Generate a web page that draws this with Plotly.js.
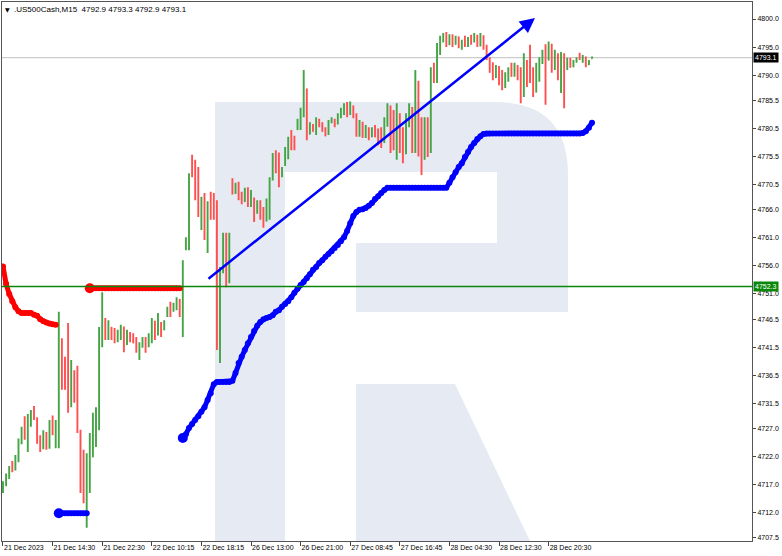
<!DOCTYPE html>
<html>
<head>
<meta charset="utf-8">
<script src="https://cdn.plot.ly/plotly-3.0.1.min.js"></script>
<style>html,body{margin:0;padding:0;background:#fff}#chart{width:782px;height:556px}</style>
</head>
<body>
<div id="chart"></div>
<script>
const openP = [4716.0,4717.0,4718.4,4720.0,4719.7,4721.5,4724.6,4727.0,4723.0,4728.8,4730.0,4728.8,4725.0,4723.5,4726.0,4723.6,4728.0,4725.8,4726.0,4742.5,
4739.5,4745.0,4731.5,4737.0,4738.0,4726.5,4721.0,4714.0,4718.0,4722.0,4726.0,4730.0,4743.0,4746.3,4743.2,4745.0,4743.5,4742.8,4744.3,4745.0,
4742.0,4743.8,4743.5,4742.5,4740.0,4742.0,4743.0,4741.6,4742.5,4746.0,4743.8,4745.8,4744.6,4747.0,4749.2,4748.0,4748.5,4750.0,4747.5,4759.0,
4759.0,4773.0,4772.0,4773.0,4763.0,4767.5,4762.0,4768.5,4768.5,4767.5,4742.0,4755.0,4760.0,4753.0,4771.5,4769.0,4770.5,4768.0,4767.5,4769.5,
4767.0,4768.0,4765.5,4767.0,4765.5,4764.0,4765.0,4771.5,4776.0,4775.0,4772.0,4774.0,4776.5,4780.0,4779.0,4780.3,4780.5,4783.0,4787.5,4779.5,
4781.0,4779.5,4782.0,4781.5,4780.5,4779.5,4781.8,4782.0,4781.5,4783.0,4783.5,4785.0,4783.0,4784.5,4783.0,4779.5,4781.0,4779.0,4780.5,4779.0,
4780.5,4779.5,4780.0,4778.0,4781.0,4784.5,4782.0,4775.5,4783.0,4779.0,4776.0,4781.0,4783.5,4777.0,4788.5,4781.0,4775.0,4781.0,4777.0,4790.5,
4789.0,4794.0,4796.0,4797.5,4795.5,4797.0,4795.5,4796.8,4795.0,4796.0,4795.5,4796.5,4796.0,4797.0,4795.3,4797.0,4795.0,4793.0,4790.5,4789.6,
4791.5,4789.5,4787.8,4789.5,4791.0,4790.0,4791.5,4791.0,4786.5,4792.5,4794.0,4790.0,4787.0,4789.5,4792.2,4794.0,4792.7,4795.5,4791.0,4793.5,
4787.5,4793.5,4791.0,4792.5,4791.5,4792.5,4793.6,4792.8,4793.2,4791.8,4792.9];
const highP = [4717.6,4719.0,4720.3,4721.2,4722.3,4725.2,4727.3,4729.2,4729.6,4730.3,4731.0,4729.0,4725.8,4726.7,4726.4,4728.5,4729.3,4728.5,4747.8,4743.1,
4739.8,4745.8,4739.2,4737.4,4738.2,4726.8,4723.2,4722.6,4726.2,4729.8,4730.8,4745.1,4751.3,4746.7,4746.3,4745.1,4744.9,4744.6,4745.5,4745.2,
4744.6,4744.2,4744.0,4743.3,4742.4,4743.3,4743.3,4744.0,4746.7,4746.2,4747.6,4746.0,4746.3,4748.7,4749.6,4749.4,4750.4,4750.1,4757.0,4761.1,
4772.5,4775.8,4774.9,4773.6,4768.3,4769.0,4767.5,4769.2,4769.0,4767.7,4755.8,4761.9,4761.9,4761.9,4771.6,4770.8,4771.0,4769.2,4769.9,4770.0,
4769.5,4768.2,4767.7,4767.7,4766.5,4768.0,4771.8,4776.1,4776.6,4776.2,4773.6,4777.2,4779.0,4780.2,4779.2,4782.2,4784.2,4790.9,4787.6,4781.6,
4781.3,4782.5,4782.2,4781.6,4780.7,4782.0,4782.5,4782.2,4783.2,4784.2,4785.0,4785.2,4785.3,4784.6,4783.2,4782.0,4781.7,4781.1,4780.7,4780.7,
4781.1,4780.5,4780.7,4782.5,4785.0,4784.6,4783.8,4785.0,4783.2,4780.7,4783.2,4785.0,4784.3,4790.9,4789.0,4782.5,4782.5,4782.5,4791.4,4792.2,
4795.7,4797.0,4797.5,4797.7,4797.3,4797.3,4797.0,4796.9,4796.3,4797.0,4796.8,4797.2,4797.5,4797.2,4797.5,4797.1,4795.4,4793.2,4792.3,4791.8,
4791.6,4790.9,4790.5,4791.4,4792.2,4792.2,4791.8,4791.4,4793.9,4792.7,4795.4,4791.4,4792.2,4793.2,4794.5,4795.5,4796.0,4795.6,4794.5,4793.9,
4794.1,4793.9,4793.1,4793.1,4792.7,4793.2,4794.0,4793.6,4793.3,4792.7,4793.3];
const lowP = [4715.5,4716.7,4718.0,4719.2,4719.5,4721.0,4724.2,4725.0,4722.8,4727.3,4728.5,4724.3,4722.8,4723.3,4723.2,4723.4,4725.8,4723.5,4723.5,4733.9,
4733.9,4729.8,4730.8,4731.6,4726.2,4715.5,4713.7,4709.3,4715.5,4721.9,4723.7,4726.7,4741.5,4742.8,4742.8,4742.8,4742.2,4742.4,4742.8,4740.6,
4741.9,4742.4,4742.2,4740.5,4739.2,4741.4,4740.5,4741.5,4742.2,4742.8,4743.6,4743.3,4744.5,4746.9,4746.9,4747.8,4748.1,4746.9,4743.3,4758.8,
4758.8,4771.8,4767.7,4764.7,4762.4,4760.6,4758.3,4764.2,4764.2,4741.0,4738.7,4754.7,4752.2,4752.9,4768.7,4768.8,4767.7,4767.0,4767.4,4766.5,
4766.5,4763.8,4765.3,4764.2,4762.8,4763.9,4764.2,4771.2,4772.5,4770.0,4771.8,4773.8,4775.0,4776.6,4776.6,4780.2,4780.2,4782.5,4778.4,4779.4,
4779.9,4779.3,4780.7,4779.9,4779.1,4779.3,4781.4,4780.7,4781.2,4782.3,4782.9,4782.5,4782.9,4782.3,4779.0,4779.0,4778.8,4778.8,4778.4,4778.9,
4778.9,4777.5,4777.0,4777.9,4780.8,4776.1,4776.6,4774.9,4776.1,4774.3,4775.9,4780.7,4776.1,4776.1,4775.5,4772.2,4774.9,4775.4,4776.1,4788.6,
4788.6,4793.6,4795.8,4795.0,4795.3,4795.0,4795.4,4794.8,4794.5,4795.0,4795.0,4795.4,4795.8,4795.0,4795.1,4794.5,4792.7,4790.4,4789.1,4789.5,
4788.2,4787.3,4787.7,4788.8,4789.7,4789.7,4789.1,4785.0,4786.1,4787.9,4788.6,4786.1,4786.9,4788.8,4792.0,4784.7,4792.6,4790.4,4790.9,4789.1,
4786.8,4784.1,4790.9,4791.3,4791.4,4792.2,4792.7,4792.2,4791.4,4791.8,4792.9];
const closeP = [4717.3,4718.5,4720.0,4719.6,4721.9,4724.8,4726.8,4725.5,4729.0,4729.5,4728.8,4724.8,4723.2,4726.2,4723.4,4728.0,4726.0,4728.3,4742.5,4735.0,
4734.0,4731.0,4738.5,4732.0,4727.0,4716.0,4714.0,4721.5,4725.5,4728.8,4730.0,4744.0,4748.5,4743.0,4745.8,4743.5,4743.0,4744.3,4745.0,4741.0,
4743.8,4742.8,4742.3,4740.8,4742.0,4742.9,4740.8,4743.5,4746.3,4743.5,4747.2,4743.8,4746.0,4748.5,4747.0,4749.2,4750.0,4747.0,4755.5,4760.3,
4771.5,4772.0,4768.0,4765.0,4767.5,4762.0,4767.0,4764.5,4766.0,4741.5,4755.0,4760.0,4753.0,4761.0,4769.0,4770.5,4768.0,4767.5,4769.5,4767.0,
4768.0,4764.0,4767.0,4764.5,4763.0,4767.5,4771.5,4775.5,4773.5,4770.5,4773.5,4776.8,4778.5,4777.0,4777.0,4782.0,4784.0,4788.5,4779.0,4781.5,
4780.0,4782.0,4781.0,4780.0,4779.2,4781.8,4782.2,4781.0,4783.0,4784.0,4784.8,4783.0,4784.5,4782.5,4779.3,4781.0,4779.0,4780.5,4778.6,4780.5,
4779.0,4778.0,4777.5,4781.5,4784.5,4777.0,4777.0,4784.0,4777.0,4775.5,4782.5,4784.0,4777.0,4787.5,4780.0,4773.0,4781.5,4776.0,4790.0,4788.8,
4794.0,4796.0,4797.0,4795.5,4797.0,4795.2,4796.8,4795.0,4796.0,4795.5,4796.5,4796.0,4797.0,4795.3,4797.0,4794.8,4792.8,4790.5,4790.0,4791.5,
4789.0,4787.5,4789.5,4790.5,4789.8,4791.5,4789.5,4786.0,4793.0,4789.0,4789.5,4787.0,4790.5,4792.5,4794.0,4786.5,4795.5,4791.0,4793.5,4790.5,
4793.5,4785.5,4792.8,4791.5,4792.5,4793.0,4792.8,4793.2,4791.6,4792.5,4793.1];

// Parabolic-SAR style dot runs (first bar index + values)
const sarRed1Start = 0;
const sarRed1 = [4755.9,4752.8,4751.0,4749.7,4748.6,4747.9,4747.6,4747.6,4747.6,4747.6,4747.3,4747.1,4746.5,4746.1,4745.9,4745.7,4745.6,4745.5];
const sarBlue1Start = 18;
const sarBlue1 = [4711.9,4711.9,4711.9,4711.9,4711.9,4711.9,4711.9,4711.9,4711.9,4711.9];
const sarRed2Start = 28;
const sarRed2 = [4752.0,4752.0,4752.0,4752.0,4752.0,4752.0,4752.0,4752.0,4752.0,4752.0,4752.0,4752.0,4752.0,4752.0,4752.0,
4752.0,4752.0,4752.0,4752.0,4752.0,4752.0,4752.0,4752.0,4752.0,4752.0,4752.0,4752.0,4752.0,4752.0,4752.0];
const sarBlue2Start = 58;
const sarBlue2 = [4725.3,4726.0,4727.1,4727.8,4728.5,4729.2,4730.0,4730.8,4732.1,4733.3,4734.9,4735.3,4735.3,4735.3,4735.3,4735.3,4735.5,4736.9,4738.7,4739.8,
4741.0,4742.2,4743.3,4744.4,4745.3,4746.0,4746.5,4746.7,4746.9,4747.2,4747.8,4748.1,4748.7,4749.2,4749.7,4750.4,4751.2,4751.9,4752.6,4753.1,
4753.8,4754.5,4755.3,4755.8,4756.5,4757.0,4757.6,4758.1,4758.6,4759.2,4759.7,4760.4,4761.1,4762.2,4763.6,4764.9,4765.6,4766.0,4766.1,4766.3,
4766.7,4767.2,4767.9,4768.4,4769.0,4769.5,4769.9,
4769.9,4769.9,4769.9,4769.9,4769.9,4769.9,4769.9,4769.9,4769.9,4769.9,4769.9,4769.9,4769.9,4769.9,4769.9,4769.9,4769.9,4769.9,4769.9,
4770.8,4771.8,4772.7,4773.6,4774.3,4775.4,4776.3,4777.2,4777.9,4778.6,4779.1,4779.5,
4779.6,4779.6,4779.6,4779.6,4779.6,4779.6,4779.6,4779.6,4779.6,4779.6,4779.6,4779.6,4779.6,4779.6,4779.6,4779.6,
4779.6,4779.6,4779.6,4779.6,4779.6,4779.6,4779.6,4779.6,4779.6,4779.6,4779.6,4779.6,4779.6,4779.6,4779.6,
4779.7,4780.0,4780.6,4781.5];

// Trend line (bar index, price)
const trendX = [65.8, 171.6];
const trendY = [4753.5, 4800.2];

// Levels
const bidLevel = 4793.1;
const greenLevel = 4752.3;

// Axis ticks
const xTickBars = [0,16,32,48,64,80,96,112,128,144,160,176];
const xTickLabels = ['21 Dec 2023','21 Dec 14:30','21 Dec 22:30','22 Dec 10:15','22 Dec 18:15','26 Dec 13:00','26 Dec 21:00','27 Dec 08:45','27 Dec 16:45','28 Dec 04:30','28 Dec 12:30','28 Dec 20:30'];
const yTickVals = [4800.0,4795.0,4790.0,4785.5,4780.5,4775.5,4770.5,4766.0,4761.0,4756.0,4751.0,4746.5,4741.5,4736.5,4731.5,4727.0,4722.0,4717.0,4712.0,4707.5];
const headerText = '.US500Cash,M15\u00a0\u00a04792.9 4793.3 4792.9 4793.1';

// ---------- LAYOUT HELPERS ----------
const W = 782, H = 556;
const M = {l: 2, r: 30, t: 2, b: 15};
const PW = W - M.l - M.r, PH = H - M.t - M.b;
const px = x => (x - M.l) / PW;
const py = y => 1 - (y - M.t) / PH;
const pt = (x, y) => px(x).toFixed(5) + ',' + py(y).toFixed(5);

const idx = n => Array.from({length: n}, (_, i) => i);
const runX = (start, arr) => arr.map((_, k) => start + k);

const sarTrace = (start, vals, color) => ({
  type: 'scatter', mode: 'lines+markers', x: runX(start, vals), y: vals,
  line: {color: color, width: 5}, marker: {color: color, size: 6},
  hoverinfo: 'skip', showlegend: false
});
const sarHead = (start, vals, color) => ({
  type: 'scatter', mode: 'markers', x: [start], y: [vals[0]],
  marker: {color: color, size: 10}, hoverinfo: 'skip', showlegend: false
});

const traces = [
  {
    type: 'ohlc', x: idx(openP.length),
    open: openP, high: highP, low: lowP, close: closeP,
    increasing: {line: {color: '#45a445', width: 1.9}},
    decreasing: {line: {color: '#ff5050', width: 1.9}},
    tickwidth: 0.1, showlegend: false, hoverinfo: 'skip'
  },
  sarTrace(sarRed1Start, sarRed1, '#ff0000'),
  sarTrace(sarBlue1Start, sarBlue1, '#0000ff'), sarHead(sarBlue1Start, sarBlue1, '#0000ff'),
  sarTrace(sarRed2Start, sarRed2, '#ff0000'), sarHead(sarRed2Start, sarRed2, '#ff0000'),
  sarTrace(sarBlue2Start, sarBlue2, '#0000ff'), sarHead(sarBlue2Start, sarBlue2, '#0000ff')
];

// Watermark "R" (pixel geometry -> paper)
const wmColor = '#e6ebf3';
const bowlPath = 'M' + pt(215,102) + 'L' + pt(495,102) + 'Q' + pt(568,102) + ' ' + pt(568,175) +
  'L' + pt(568,312) + 'L' + pt(356,312) + 'L' + pt(356,243) + 'L' + pt(497,243) + 'L' + pt(497,172) +
  'L' + pt(285,172) + 'L' + pt(285,541) + 'L' + pt(215,541) + 'Z';
const legPath = 'M' + pt(356,384) + 'L' + pt(455,384) + 'L' + pt(530,541) + 'L' + pt(356,541) + 'Z';

const font = {family: 'Liberation Sans, Arial, sans-serif', size: 7, color: '#000'};

const layout = {
  width: W, height: H,
  margin: M,
  paper_bgcolor: '#ffffff', plot_bgcolor: '#ffffff',
  showlegend: false,
  font: font,
  xaxis: {
    range: [-0.32, 241.6], showgrid: false, zeroline: false,
    rangeslider: {visible: false},
    tickmode: 'array', tickvals: xTickBars, ticktext: xTickLabels,
    tickangle: 0, automargin: false,
    ticks: 'outside', ticklen: 4, tickcolor: '#444', tickwidth: 1,
    ticklabelposition: 'outside right',
    tickfont: font, showline: true, linecolor: '#555', linewidth: 1, mirror: true,
    fixedrange: true
  },
  yaxis: {
    range: [4706.95, 4803.03], side: 'right', showgrid: false, zeroline: false,
    tickmode: 'array', tickvals: yTickVals, ticktext: yTickVals.map(v => v.toFixed(1)),
    ticks: 'outside', ticklen: 3, tickcolor: '#444', tickwidth: 1, automargin: false,
    tickfont: font, showline: true, linecolor: '#555', linewidth: 1, mirror: true,
    fixedrange: true
  },
  shapes: [
    {type: 'path', xref: 'paper', yref: 'paper', path: bowlPath, fillcolor: wmColor, line: {width: 0}, layer: 'below'},
    {type: 'path', xref: 'paper', yref: 'paper', path: legPath, fillcolor: wmColor, line: {width: 0}, layer: 'below'},
    {type: 'line', xref: 'paper', yref: 'y', x0: 0, x1: 1, y0: bidLevel, y1: bidLevel, line: {color: '#c0c0c0', width: 1}, layer: 'below'},
    {type: 'line', xref: 'paper', yref: 'y', x0: 0, x1: 1, y0: greenLevel, y1: greenLevel, line: {color: '#0a870a', width: 1.5}}
  ],
  annotations: [
    {xref: 'x', yref: 'y', axref: 'x', ayref: 'y', x: trendX[1], y: trendY[1], ax: trendX[0], ay: trendY[0],
     text: '', showarrow: true, arrowhead: 2, arrowsize: 1.2, arrowwidth: 2.5, arrowcolor: '#0000ff'},
    {xref: 'paper', yref: 'paper', x: px(3), y: py(4), xanchor: 'left', yanchor: 'top',
     text: '\u25BC', showarrow: false, font: {family: 'DejaVu Sans, sans-serif', size: 6, color: '#000'}},
    {xref: 'paper', yref: 'paper', x: px(12), y: py(3), xanchor: 'left', yanchor: 'top',
     text: headerText, showarrow: false, font: {family: 'Liberation Sans, Arial, sans-serif', size: 8, color: '#000'}},
    {xref: 'paper', yref: 'y', x: 1, y: bidLevel, xanchor: 'left', yanchor: 'middle', xshift: 1,
     text: bidLevel.toFixed(1), showarrow: false, bgcolor: '#000000', borderpad: 1,
     font: {family: 'Liberation Sans, Arial, sans-serif', size: 7, color: '#ffffff'}},
    {xref: 'paper', yref: 'y', x: 1, y: greenLevel, xanchor: 'left', yanchor: 'middle', xshift: 1,
     text: greenLevel.toFixed(1), showarrow: false, bgcolor: '#0a870a', borderpad: 1,
     font: {family: 'Liberation Sans, Arial, sans-serif', size: 7, color: '#ffffff'}}
  ]
};

Plotly.newPlot('chart', traces, layout, {displayModeBar: false, staticPlot: true});
</script>
</body>
</html>
